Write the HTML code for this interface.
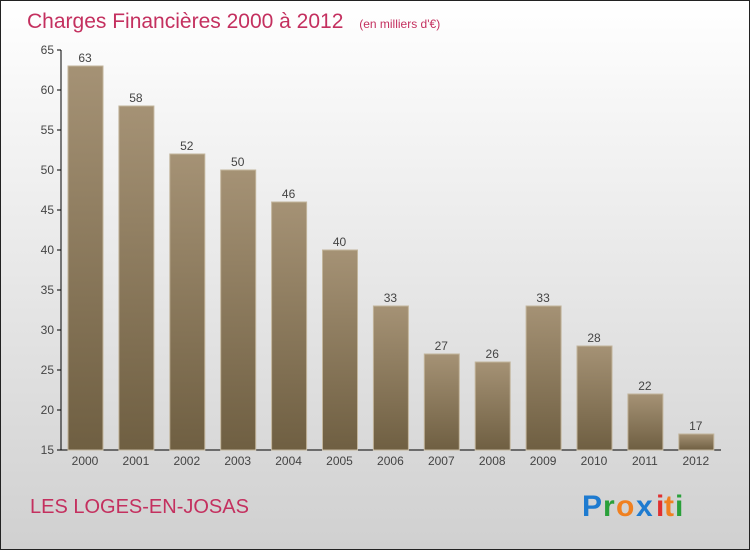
<!DOCTYPE html>
<html><head><meta charset="utf-8"><style>
body{margin:0;width:750px;height:550px;overflow:hidden;font-family:"Liberation Sans",sans-serif}
</style></head><body>
<svg width="750" height="550" xmlns="http://www.w3.org/2000/svg">
<defs>
<linearGradient id="bg" x1="0" y1="0" x2="0" y2="1"><stop offset="0" stop-color="#ffffff"/><stop offset="1" stop-color="#d0d0d0"/></linearGradient>
<linearGradient id="bar" x1="0" y1="0" x2="0" y2="1"><stop offset="0" stop-color="#a59275"/><stop offset="1" stop-color="#6f5f42"/></linearGradient>
</defs>
<rect x="0.5" y="0.5" width="749" height="549" fill="url(#bg)" stroke="#222"/>
<text x="27" y="28" font-size="21" fill="#c4305f">Charges Financières 2000 à 2012 <tspan font-size="12" dx="10">(en milliers d'€)</tspan></text>
<g id="axes"></g>
<g id="bars"></g>
<text x="30" y="513" font-size="20" fill="#c4305f">LES LOGES-EN-JOSAS</text>
<g font-size="30" font-weight="bold">
<text x="582" y="516" fill="#1e7bd0">P</text><text x="603" y="516" fill="#2aa03a">r</text><text x="616" y="516" fill="#f08020">o</text><text x="636" y="516" fill="#1e7bd0">x</text><text x="656" y="516" fill="#e03030">i</text><text x="664" y="516" fill="#f08020">t</text><text x="675" y="516" fill="#2aa03a">i</text>
</g>
</svg>
<script>
const years=["2000","2001","2002","2003","2004","2005","2006","2007","2008","2009","2010","2011","2012"];
const values=[63,58,52,50,46,40,33,27,26,33,28,22,17];
const yTicks=[15,20,25,30,35,40,45,50,55,60,65];
const NS="http://www.w3.org/2000/svg";
const y0=450,yTop=50,vMin=15,vMax=65;
function ys(v){return y0-(v-vMin)/(vMax-vMin)*(y0-yTop);}
function xs(i){return 85+i*50.9;}
function mk(t,a,p){const e=document.createElementNS(NS,t);for(const k in a)e.setAttribute(k,a[k]);p.appendChild(e);return e;}
const ax=document.getElementById('axes'),bg=document.getElementById('bars');
const yl=mk('line',{x1:61,y1:50,x2:61,y2:450,stroke:'#000'},ax);


const xl=mk('line',{x1:61,y1:450,x2:721,y2:450,stroke:'#000'},ax);


yTicks.forEach(v=>{
 const y=ys(v);
 mk('line',{x1:57,y1:y,x2:61,y2:y,stroke:'#000'},ax);
 const t=mk('text',{x:54,y:y+4,'font-size':12,fill:'#444','text-anchor':'end'},ax);
 t.textContent=v;
 
 
});
values.forEach((v,i)=>{
 const cx=xs(i),y=ys(v);
 const r=mk('rect',{x:cx-17,y:y,width:35,height:y0-y,fill:'url(#bar)',stroke:'#c2b59c','stroke-width':1},bg);
 
 
 const t=mk('text',{x:cx,y:y-4,'font-size':12,fill:'#444','text-anchor':'middle'},bg);
 t.textContent=v;
 
 
 const l=mk('text',{x:cx,y:465,'font-size':12,fill:'#444','text-anchor':'middle'},bg);
 l.textContent=years[i];
 
 
});
</script>
</body></html>
